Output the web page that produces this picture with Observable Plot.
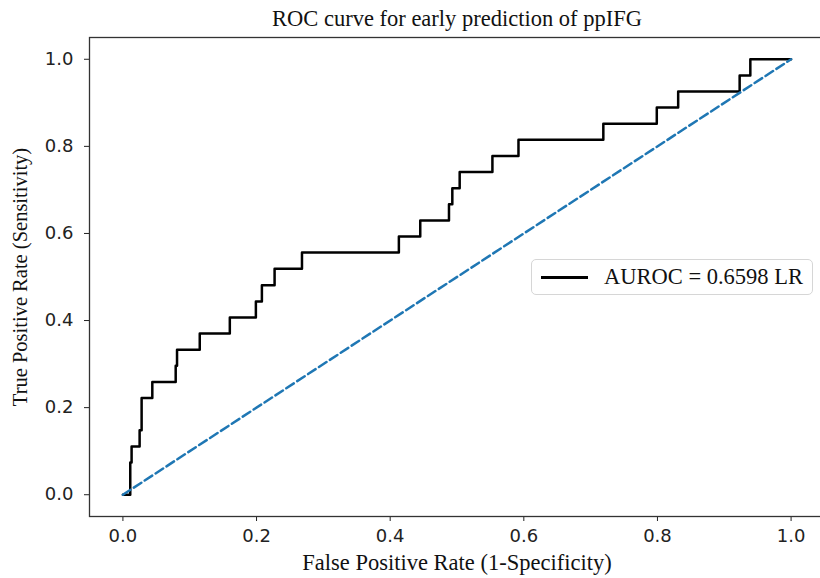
<!DOCTYPE html>
<html><head><meta charset="utf-8">
<script src="https://cdn.jsdelivr.net/npm/d3@7"></script>
<script src="https://cdn.jsdelivr.net/npm/@observablehq/plot@0.6"></script>
<style>
html,body{margin:0;padding:0;background:#fff;overflow:hidden;}
#wrap{position:relative;width:820px;height:578px;overflow:hidden;}
#legend{position:absolute;left:531px;top:259px;width:282px;height:36px;box-sizing:border-box;border:1.4px solid #d6d6d6;border-radius:5px;background:#fff;font-family:"Liberation Serif",serif;font-size:22.5px;color:#111;}
#legend .sw{position:absolute;left:9px;top:16px;width:47px;height:2.5px;background:#000;}
#legend .lbl{position:absolute;left:72px;top:4px;white-space:nowrap;line-height:26px;}
</style></head><body><div id="wrap"></div>
<script>
// ROC curve corner points (false positive rate, true positive rate)
const fpr = [0, 0.011, 0.011, 0.013, 0.013, 0.025, 0.025, 0.028, 0.028, 0.044, 0.044, 0.079, 0.079, 0.081, 0.081, 0.115, 0.115, 0.160, 0.160, 0.199, 0.199, 0.208, 0.208, 0.227, 0.227, 0.268, 0.268, 0.413, 0.413, 0.445, 0.445, 0.488, 0.488, 0.493, 0.493, 0.504, 0.504, 0.553, 0.553, 0.592, 0.592, 0.719, 0.719, 0.799, 0.799, 0.831, 0.831, 0.923, 0.923, 0.939, 0.939, 1.0];
const tpr = [0, 0, 0.074, 0.074, 0.111, 0.111, 0.148, 0.148, 0.222, 0.222, 0.259, 0.259, 0.296, 0.296, 0.333, 0.333, 0.370, 0.370, 0.407, 0.407, 0.444, 0.444, 0.481, 0.481, 0.519, 0.519, 0.556, 0.556, 0.593, 0.593, 0.630, 0.630, 0.667, 0.667, 0.704, 0.704, 0.741, 0.741, 0.778, 0.778, 0.815, 0.815, 0.852, 0.852, 0.889, 0.889, 0.926, 0.926, 0.963, 0.963, 1.0, 1.0];
// chance diagonal
const chanceX = [0, 1];
const chanceY = [0, 1];
const xTicks = [0, 0.2, 0.4, 0.6, 0.8, 1.0];
const yTicks = [0, 0.2, 0.4, 0.6, 0.8, 1.0];
const titleText = "ROC curve for early prediction of ppIFG";
const xLabel = "False Positive Rate (1-Specificity)";
const yLabel = "True Positive Rate (Sensitivity)";
const legendLabel = "AUROC = 0.6598 LR";

const roc = fpr.map((x, i) => ({x, y: tpr[i]}));
const chance = chanceX.map((x, i) => ({x, y: chanceY[i]}));
const serif = "Liberation Serif, Times New Roman, serif";

const plot = Plot.plot({
  width: 820, height: 578,
  marginLeft: 89, marginRight: -4, marginTop: 37, marginBottom: 62,
  style: {background: "#fff", overflow: "hidden", fontFamily: "DejaVu Sans", color: "#222"},
  x: {domain: [-0.05, 1.05]},
  y: {domain: [-0.05, 1.05]},
  marks: [
    Plot.line(roc, {x: "x", y: "y", stroke: "#000", strokeWidth: 2.5, curve: "linear"}),
    Plot.line(chance, {x: "x", y: "y", stroke: "#1f77b4", strokeWidth: 2.5, strokeDasharray: "9,4"}),
    Plot.axisX({ticks: xTicks, tickFormat: d3.format(".1f"), tickSize: 5, tickPadding: 8, fontSize: 18, fontFamily: "DejaVu Sans", label: null}),
    Plot.axisY({ticks: yTicks, tickFormat: d3.format(".1f"), tickSize: 5, tickPadding: 11, fontSize: 18, fontFamily: "DejaVu Sans", label: null}),
    Plot.frame({stroke: "#333", strokeWidth: 1.3}),
    Plot.text([titleText], {text: d => d, frameAnchor: "top", lineAnchor: "middle", textAnchor: "middle", dy: -19, fontFamily: serif, fontSize: 22.5, fill: "#111"}),
    Plot.text([xLabel], {text: d => d, frameAnchor: "bottom", lineAnchor: "middle", textAnchor: "middle", dy: 46, fontFamily: serif, fontSize: 22.5, fill: "#111"}),
    Plot.text([yLabel], {text: d => d, frameAnchor: "left", lineAnchor: "middle", textAnchor: "middle", dx: -69, rotate: -90, fontFamily: serif, fontSize: 20.5, fill: "#111"})
  ]
});
const wrap = document.getElementById("wrap");
wrap.appendChild(plot);
const leg = document.createElement("div");
leg.id = "legend";
leg.innerHTML = '<div class="sw"></div><div class="lbl"></div>';
leg.querySelector(".lbl").textContent = legendLabel;
wrap.appendChild(leg);
</script></body></html>
